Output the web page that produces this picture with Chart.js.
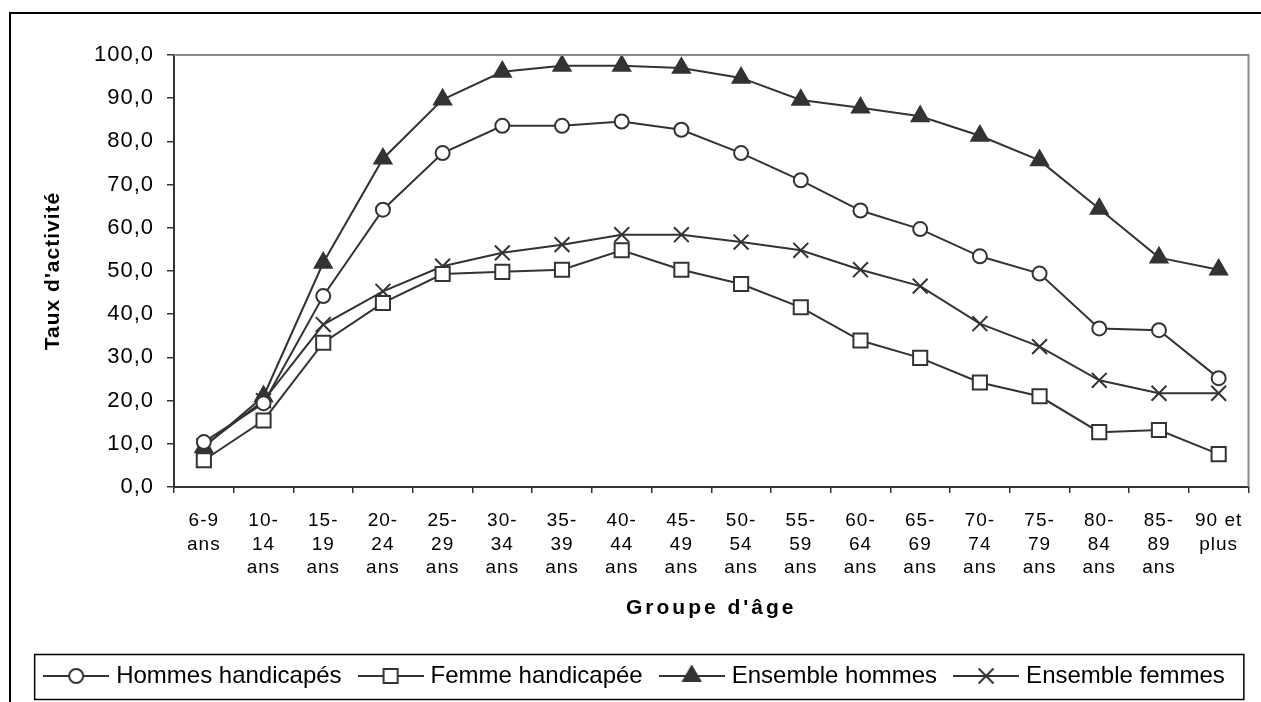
<!DOCTYPE html>
<html lang="fr">
<head>
<meta charset="utf-8">
<title>Taux d'activité par groupe d'âge</title>
<script src="https://cdn.jsdelivr.net/npm/chart.js@4.4.1/dist/chart.umd.min.js"></script>
<style>
  html, body { margin: 0; padding: 0; background: #fff; overflow: hidden; }
  #frame {
    position: absolute; left: 9px; top: 12px; width: 1400px; height: 900px;
    border-top: 2px solid #000; border-left: 2px solid #000;
  }
  #chart { position: absolute; left: 0; top: 0; }
</style>
</head>
<body>
<div id="frame"></div>
<canvas id="chart" width="1261" height="702"></canvas>
<script>
// Age groups (multi-line tick labels)
const ageGroups = [
  ['6-9', 'ans'], ['10-', '14', 'ans'], ['15-', '19', 'ans'], ['20-', '24', 'ans'],
  ['25-', '29', 'ans'], ['30-', '34', 'ans'], ['35-', '39', 'ans'], ['40-', '44', 'ans'],
  ['45-', '49', 'ans'], ['50-', '54', 'ans'], ['55-', '59', 'ans'], ['60-', '64', 'ans'],
  ['65-', '69', 'ans'], ['70-', '74', 'ans'], ['75-', '79', 'ans'], ['80-', '84', 'ans'],
  ['85-', '89', 'ans'], ['90 et', 'plus']
];

// Activity rates (%)
const hommesHandicapes = [10.4, 19.4, 44.2, 64.2, 77.3, 83.6, 83.6, 84.6, 82.7, 77.3, 71.0, 64.0, 59.7, 53.4, 49.4, 36.7, 36.3, 25.2];
const femmeHandicapee  = [6.2, 15.4, 33.4, 42.6, 49.3, 49.8, 50.3, 54.8, 50.3, 47.0, 41.6, 33.9, 29.9, 24.2, 21.0, 12.7, 13.2, 7.6];
const ensembleHommes   = [9.2, 21.0, 51.9, 76.0, 89.7, 96.1, 97.5, 97.5, 97.0, 94.7, 89.6, 87.8, 85.8, 81.3, 75.6, 64.4, 53.1, 50.3];
const ensembleFemmes   = [9.5, 20.0, 37.6, 45.3, 51.1, 54.2, 56.1, 58.4, 58.4, 56.7, 54.8, 50.3, 46.5, 37.8, 32.5, 24.7, 21.7, 21.7];

const seriesNames = ['Hommes handicapés', 'Femme handicapée', 'Ensemble hommes', 'Ensemble femmes'];

// Y axis: 0 to 100 by 10, French decimal comma
const yMin = 0, yMax = 100, yStep = 10;

const INK = '#333333';
const FONT = '"Liberation Sans", Arial, sans-serif';

const markers = [
  { style: 'circle',   radius: 7,    fill: '#ffffff' },
  { style: 'rect',     radius: 10,   fill: '#ffffff' },
  { style: 'triangle', radius: 9.8,  fill: INK },
  { style: 'crossRot', radius: 10.5, fill: INK }
];

// Legend key: a short line with the series marker in its middle
function legendKey(m) {
  const c = document.createElement('canvas');
  c.width = 66; c.height = 22;
  const g = c.getContext('2d');
  const cx = 33, cy = 11, r = m.radius;
  g.strokeStyle = INK; g.lineWidth = 2;
  g.beginPath(); g.moveTo(0, cy); g.lineTo(66, cy); g.stroke();
  g.fillStyle = m.fill;
  g.beginPath();
  if (m.style === 'circle') {
    g.arc(cx, cy, r, 0, Math.PI * 2);
    g.fill(); g.stroke();
  } else if (m.style === 'rect') {
    const s = r * Math.SQRT1_2;
    g.rect(cx - s, cy - s, 2 * s, 2 * s);
    g.fill(); g.stroke();
  } else if (m.style === 'triangle') {
    let a = 0;
    g.moveTo(cx + Math.sin(a) * r, cy - Math.cos(a) * r);
    a += Math.PI * 2 / 3; g.lineTo(cx + Math.sin(a) * r, cy - Math.cos(a) * r);
    a += Math.PI * 2 / 3; g.lineTo(cx + Math.sin(a) * r, cy - Math.cos(a) * r);
    g.closePath(); g.fill(); g.stroke();
  } else {
    const o = Math.cos(Math.PI / 4) * r;
    g.moveTo(cx - o, cy - o); g.lineTo(cx + o, cy + o);
    g.moveTo(cx + o, cy - o); g.lineTo(cx - o, cy + o);
    g.stroke();
  }
  return c;
}

function series(label, data, m) {
  return {
    label, data,
    borderColor: INK, borderWidth: 2,
    pointStyle: m.style, pointRadius: m.radius, pointHoverRadius: m.radius,
    pointBackgroundColor: m.fill, pointBorderColor: INK, pointBorderWidth: 2,
    tension: 0, fill: false
  };
}

// Spaced lettering on axis labels and titles
function spaced(obj, method, spacing) {
  const orig = obj[method];
  obj[method] = function () {
    const c = this.ctx; c.save(); c.letterSpacing = spacing;
    const r = orig.apply(this, arguments); c.restore(); return r;
  };
}
const spacingPlugin = {
  id: 'spacing',
  beforeDraw(chart) {
    const { x, y } = chart.scales;
    if (x && !x._spaced) {
      spaced(x, 'drawLabels', '1px'); spaced(x, 'drawTitle', '3px'); x._spaced = true;
    }
    if (y && !y._spaced) {
      spaced(y, 'drawLabels', '1px'); spaced(y, 'drawTitle', '1px'); y._spaced = true;
    }
  }
};

// Plot frame (grey top/right edges) and legend border
const framePlugin = {
  id: 'frames',
  afterDraw(chart) {
    const { ctx, chartArea: a, legend } = chart;
    ctx.save();
    ctx.strokeStyle = '#8a8a8a'; ctx.lineWidth = 2;
    ctx.beginPath();
    ctx.moveTo(a.left, a.top); ctx.lineTo(a.right, a.top); ctx.lineTo(a.right, a.bottom);
    ctx.stroke();
    const hb = legend.legendHitBoxes;
    if (hb && hb.length) {
      const first = hb[0], last = hb[hb.length - 1];
      const cy = first.top + first.height / 2;
      const x0 = first.left - 13.5, x1 = last.left + last.width + 19;
      ctx.strokeStyle = '#000'; ctx.lineWidth = 1.5;
      ctx.strokeRect(x0, cy - 21.5, x1 - x0, 45);
    }
    ctx.restore();
  }
};

new Chart(document.getElementById('chart'), {
  type: 'line',
  data: {
    labels: ageGroups,
    datasets: [
      series(seriesNames[0], hommesHandicapes, markers[0]),
      series(seriesNames[1], femmeHandicapee, markers[1]),
      series(seriesNames[2], ensembleHommes, markers[2]),
      series(seriesNames[3], ensembleFemmes, markers[3])
    ]
  },
  options: {
    responsive: false,
    animation: false,
    devicePixelRatio: 1,
    layout: { padding: { left: 22, top: 55, right: 10, bottom: 4 } },
    plugins: {
      tooltip: { enabled: false },
      legend: {
        position: 'bottom',
        labels: {
          color: '#000',
          font: { family: FONT, size: 24 },
          padding: 21,
          usePointStyle: true,
          pointStyleWidth: 56,
          generateLabels(chart) {
            const items = Chart.defaults.plugins.legend.labels.generateLabels(chart);
            items.forEach((it, i) => { it.pointStyle = legendKey(markers[i]); });
            return items;
          }
        }
      }
    },
    scales: {
      x: {
        type: 'category',
        offset: true,
        grid: { display: true, drawOnChartArea: false, drawTicks: true, tickLength: 6, color: INK, lineWidth: 1.5, offset: true },
        border: { display: true, color: INK, width: 2 },
        ticks: {
          color: '#000', padding: 16, autoSkip: false, maxRotation: 0, minRotation: 0,
          font: { family: FONT, size: 19, lineHeight: 1.24 }
        },
        title: {
          display: true, text: "Groupe d'âge", color: '#000',
          font: { family: FONT, size: 21, weight: 'bold' },
          padding: { top: 0, bottom: 22 }
        },
        afterFit(scale) { scale.height = 156; }
      },
      y: {
        min: yMin, max: yMax,
        grid: { display: true, drawOnChartArea: false, drawTicks: true, tickLength: 7, color: INK, lineWidth: 1.5 },
        border: { display: true, color: INK, width: 2 },
        ticks: {
          stepSize: yStep, color: '#000', padding: 13,
          font: { family: FONT, size: 22 },
          callback: v => v.toFixed(1).replace('.', ',')
        },
        title: {
          display: true, text: "Taux d'activité", color: '#000',
          font: { family: FONT, size: 21, weight: 'bold' },
          padding: { top: 19, bottom: 0 }
        },
        afterFit(scale) { scale.width = 152; }
      }
    }
  },
  plugins: [spacingPlugin, framePlugin]
});
</script>
</body>
</html>
